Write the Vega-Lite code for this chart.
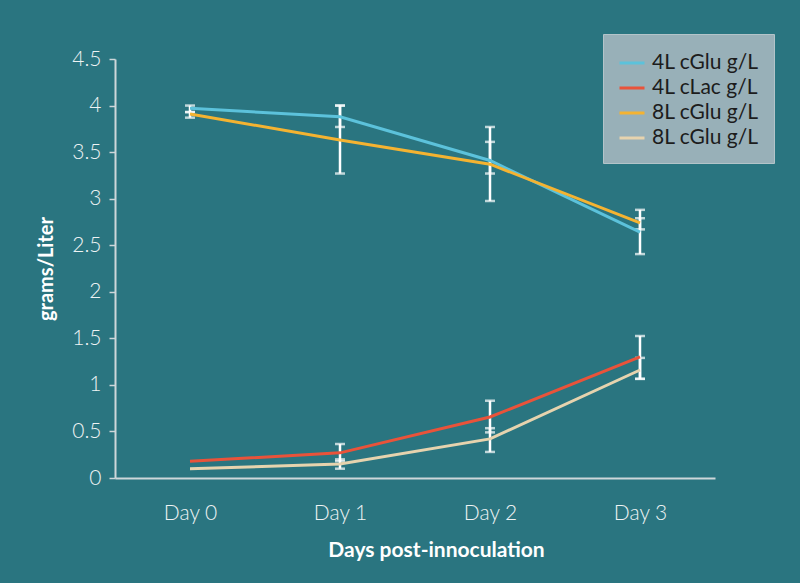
{
  "$schema": "https://vega.github.io/schema/vega-lite/v6.json",
  "autosize": {"type": "none"},
  "padding": {"left": 115, "top": 59, "right": 85, "bottom": 105},
  "width": 600,
  "height": 419,
  "background": "#2a7580",
  "config": {
    "view": {"stroke": null},
    "font": "Lato",
    "axis": {
      "grid": false,
      "domainColor": "#cdd7da",
      "domainWidth": 2,
      "tickColor": "#cdd7da",
      "tickWidth": 1.5,
      "labelColor": "#eef3f4",
      "labelFont": "Lato",
      "labelFontWeight": 300,
      "titleColor": "#ffffff",
      "titleFont": "Lato",
      "titleFontWeight": "bold",
      "labelFontSize": 21,
      "titleFontSize": 20
    },
    "axisX": {
      "labelAngle": 0,
      "labelAlign": "center",
      "ticks": false,
      "labelPadding": 24,
      "titlePadding": 16,
      "titleFontSize": 21,
      "titleX": 321,
      "titleAlign": "center"
    },
    "axisY": {
      "tickSize": 6,
      "labelPadding": 8,
      "titlePadding": 15
    }
  },
  "datasets": {
    "lines": [
      {"day": "Day 0", "series": "a", "value": 3.97},
      {"day": "Day 1", "series": "a", "value": 3.88},
      {"day": "Day 2", "series": "a", "value": 3.41},
      {"day": "Day 3", "series": "a", "value": 2.64},
      {"day": "Day 0", "series": "b", "value": 0.18},
      {"day": "Day 1", "series": "b", "value": 0.27},
      {"day": "Day 2", "series": "b", "value": 0.655},
      {"day": "Day 3", "series": "b", "value": 1.3},
      {"day": "Day 0", "series": "c", "value": 3.91},
      {"day": "Day 1", "series": "c", "value": 3.63},
      {"day": "Day 2", "series": "c", "value": 3.37},
      {"day": "Day 3", "series": "c", "value": 2.74},
      {"day": "Day 0", "series": "d", "value": 0.1},
      {"day": "Day 1", "series": "d", "value": 0.15},
      {"day": "Day 2", "series": "d", "value": 0.42},
      {"day": "Day 3", "series": "d", "value": 1.16}
    ],
    "errors": [
      {"day": "Day 0", "series": "a", "lo": 3.93, "hi": 4.0},
      {"day": "Day 0", "series": "c", "lo": 3.87, "hi": 3.93},
      {"day": "Day 1", "series": "a", "lo": 3.77, "hi": 4.0},
      {"day": "Day 1", "series": "c", "lo": 3.27, "hi": 4.0},
      {"day": "Day 2", "series": "a", "lo": 3.27, "hi": 3.61},
      {"day": "Day 2", "series": "c", "lo": 2.975, "hi": 3.77},
      {"day": "Day 3", "series": "a", "lo": 2.405, "hi": 2.88},
      {"day": "Day 3", "series": "c", "lo": 2.67, "hi": 2.79},
      {"day": "Day 1", "series": "b", "lo": 0.18, "hi": 0.365},
      {"day": "Day 1", "series": "d", "lo": 0.1, "hi": 0.2},
      {"day": "Day 2", "series": "b", "lo": 0.49, "hi": 0.83},
      {"day": "Day 2", "series": "d", "lo": 0.28, "hi": 0.535},
      {"day": "Day 3", "series": "b", "lo": 1.065, "hi": 1.525},
      {"day": "Day 3", "series": "d", "lo": 1.065, "hi": 1.29}
    ]
  },
  "layer": [
    {
      "data": {"name": "errors"},
      "mark": {
        "type": "errorbar",
        "color": "#ffffff",
        "ticks": {"size": 10, "thickness": 2.5, "color": "#ffffff"},
        "rule": {"strokeWidth": 2.5, "color": "#ffffff"}
      },
      "encoding": {
        "x": {"field": "day", "type": "ordinal", "title": "Days post-innoculation", "scale": {"type": "point", "padding": 0.5}},
        "y": {"field": "lo", "type": "quantitative", "title": "grams/Liter", "scale": {"domain": [0, 4.5], "nice": false, "zero": true}},
        "y2": {"field": "hi"}
      }
    },
    {
      "data": {"name": "lines"},
      "mark": {"type": "line", "strokeWidth": 3},
      "encoding": {
        "x": {
          "field": "day",
          "type": "ordinal",
          "title": "Days post-innoculation",
          "scale": {"type": "point", "padding": 0.5}
        },
        "y": {
          "field": "value",
          "type": "quantitative",
          "title": "grams/Liter",
          "scale": {"domain": [0, 4.5], "nice": false, "zero": true},
          "axis": {
            "values": [0, 0.5, 1, 1.5, 2, 2.5, 3, 3.5, 4, 4.5],
            "format": ".1~f"
          }
        },
        "color": {
          "field": "series",
          "type": "nominal",
          "scale": {
            "domain": ["a", "b", "c", "d"],
            "range": ["#5cc2db", "#e9533a", "#f4b331", "#e6d3ae"]
          },
          "legend": {
            "title": null,
            "orient": "none",
            "legendX": 488,
            "legendY": -25,
            "fillColor": "#98b0b8",
            "strokeColor": "#b3c4c9",
            "padding": 15,
            "symbolType": "stroke",
            "symbolSize": 625,
            "symbolStrokeWidth": 3,
            "rowPadding": 1,
            "labelOffset": 6,
            "labelFont": "Lato",
            "labelFontSize": 21,
            "labelColor": "#1c1c1c",
            "labelExpr": "datum.value == 'a' ? '4L cGlu g/L' : datum.value == 'b' ? '4L cLac g/L' : '8L cGlu g/L'"
          }
        }
      }
    }
  ]
}
